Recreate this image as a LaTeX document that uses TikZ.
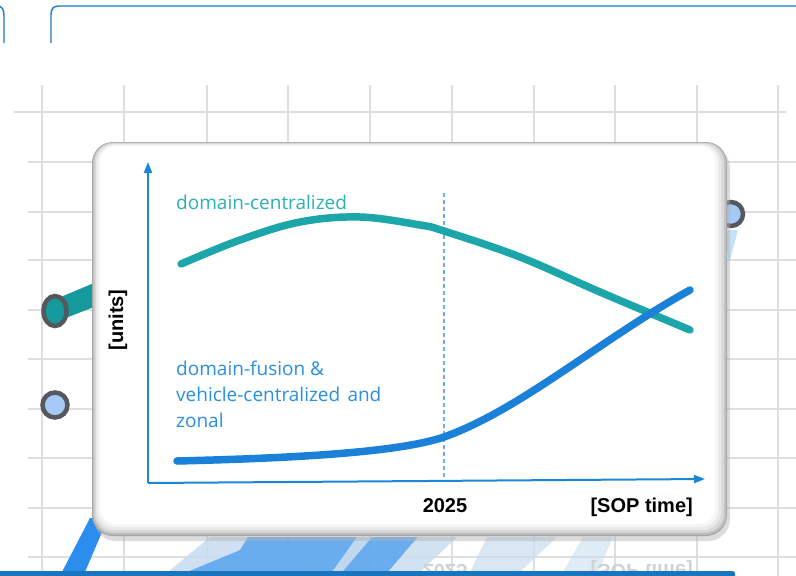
\documentclass[tikz,border=0pt]{standalone}
\usepackage{fontspec}
\setmainfont{Open Sans}
\newfontfamily\labfont{Liberation Sans}
\usetikzlibrary{arrows.meta,shapes.geometric}
\definecolor{topblue}{HTML}{1C79C0}
\definecolor{gridgray}{HTML}{DEDEDE}
\definecolor{ringgray}{HTML}{55585D}
\definecolor{tealc}{HTML}{15999C}
\definecolor{lightfill}{HTML}{A5C8F5}
\definecolor{paleblue}{HTML}{C6E2F6}
\definecolor{axisblue}{HTML}{1B87D6}
\definecolor{dashblue}{HTML}{6AB0EE}
\definecolor{curveteal}{HTML}{1CA6AA}
\definecolor{curveblue}{HTML}{1A80D8}
\definecolor{textblue}{HTML}{2A8FE0}
\definecolor{textteal}{HTML}{2BB0B3}
\definecolor{brightblue}{HTML}{2B8DEE}
\definecolor{midblue}{HTML}{62A9EE}
\definecolor{reflpale}{HTML}{C9DDEF}
\definecolor{barblue}{HTML}{1A75C0}
\tikzset{
  gridline/.style={draw=gridgray, line width=1.2pt},
  ringnode/.style={draw=ringgray, line width=4.5pt},
  axisline/.style={draw=axisblue, line width=2pt, -{Triangle[length=11pt,width=8pt]}},
  curve/.style={line width=7.5pt, line cap=round, line join=round},
  chartlabel/.style={font=\fontsize{19}{26}\selectfont, anchor=base west, inner sep=0pt},
  boldlabel/.style={font=\labfont\bfseries\fontsize{20}{24}\selectfont, inner sep=0pt},
}
\begin{document}
\begin{tikzpicture}[x=1pt,y=-1pt]
\useasboundingbox (0,0) rectangle (796,576);
\clip (0,0) rectangle (796,576);
% top tab lines
\draw[topblue, line width=1.4pt] (-20,6) -- (-3,6) .. controls (2,6) and (4,9) .. (4,16) -- (4,43);
\draw[topblue, line width=1.4pt] (51,43) -- (51,15) .. controls (51,9) and (53,6) .. (59,6) -- (800,6);
% grid
\foreach \gx in {42,124,207,288,370,452,534,615,697,778}
  \draw[gridline] (\gx,85) -- (\gx,576);
\draw[gridline] (14,112) -- (786,112);
\foreach \gy in {162,212,260,310,359,409,458,508,557}
  \draw[gridline] (28,\gy) -- (796,\gy);
% connectors behind card
\fill[tealc] (56,299) -- (94,283) -- (94,307) -- (58,321) -- cycle;
\node[ringnode, fill=tealc, ellipse, minimum width=23pt, minimum height=30pt, inner sep=0pt] (c1) at (55,311) {};
\node[ringnode, fill=lightfill, circle, minimum size=25pt, inner sep=0pt] (c2) at (55,405) {};
\fill[paleblue] (724,230) -- (738,230) -- (729,264) -- cycle;
\node[ringnode, fill=lightfill, circle, minimum size=24pt, inner sep=0pt] (c3) at (731,214) {};
% reflection area below card
\fill[brightblue] (90,518) -- (108,518) -- (85,572) -- (62,572) -- cycle;
\fill[reflpale, opacity=0.9] (210,537) -- (248,537) -- (240,550) -- (187,572) -- (168,572) -- cycle;
\fill[midblue, opacity=0.95] (248,537) -- (418,537) -- (388,572) -- (187,572) -- (240,550) -- cycle;
\fill[reflpale, opacity=0.9] (357,537) -- (372,537) -- (342,572) -- (332,572) -- cycle;
\fill[reflpale, opacity=0.85] (418,537) -- (457,537) -- (420,572) -- (388,572) -- cycle;
\fill[reflpale, opacity=0.7] (487,537) -- (557,537) -- (520,572) -- (470,572) -- cycle;
\fill[reflpale, opacity=0.6] (583,537) -- (613,537) -- (598,572) -- (563,572) -- cycle;
\node[boldlabel, text=gray!35, anchor=base] (r2025) at (445,564) {\scalebox{1}[-1]{2025}};
\node[boldlabel, text=gray!35, anchor=base east] (rsop) at (693,564) {\scalebox{1}[-1]{[SOP time]}};
% card
\fill[black!30, opacity=0.45, rounded corners=22] (94,146) rectangle (730,541);
\fill[gray!70, rounded corners=21] (92,142) rectangle (727,536);
\fill[gray!48, rounded corners=20] (93,142.6) rectangle (726,534.5);
\fill[gray!30, rounded corners=19] (94.5,143.2) rectangle (724,532.5);
\fill[gray!17, rounded corners=18] (96,144) rectangle (721,530);
\fill[gray!7, rounded corners=17] (98,145) rectangle (718,527);
\node[fill=white, rounded corners=16, minimum width=615pt, minimum height=378pt, inner sep=0pt] (card) at (407.5,335) {};
% chart
\coordinate (orig) at (148,483);
\coordinate (ytop) at (148,162);
\coordinate (xend) at (705,479);
\draw[axisline] (orig) -- (ytop);
\draw[axisline] (orig) -- (xend);
\coordinate (d1) at (444,193);
\coordinate (d2) at (444,478);
\draw[dashblue, line width=1.2pt, dash pattern=on 4pt off 3pt] (d1) -- (d2);
\draw[curve, curveteal] plot[smooth, tension=0.6] coordinates {(181,264) (240,240) (300,222) (360,217) (420,225) (444,231) (520,257) (600,292) (690,330)};
\draw[curve, curveblue] (177,461) .. controls (300,458) and (400,452) .. (444,437) .. controls (520,410) and (600,340) .. (690,290);
\node[chartlabel, text=textteal] (t1) at (176,209) {domain-centralized};
\node[chartlabel, text=textblue] (t2) at (176,375) {domain-fusion \&};
\node[chartlabel, text=textblue] (t3) at (176,401) {vehicle-centralized\hspace{0.12em} and};
\node[chartlabel, text=textblue] (t4) at (176,427) {zonal};
\node[boldlabel, rotate=90] (units) at (118,320) {[units]};
\node[boldlabel, anchor=base] (y2025) at (445,512) {2025};
\node[boldlabel, anchor=base east] (sop) at (693,512) {[SOP time]};
% bottom bar
\fill[barblue, rounded corners=2.5] (-10,571) rectangle (735,590);
\end{tikzpicture}
\end{document}
